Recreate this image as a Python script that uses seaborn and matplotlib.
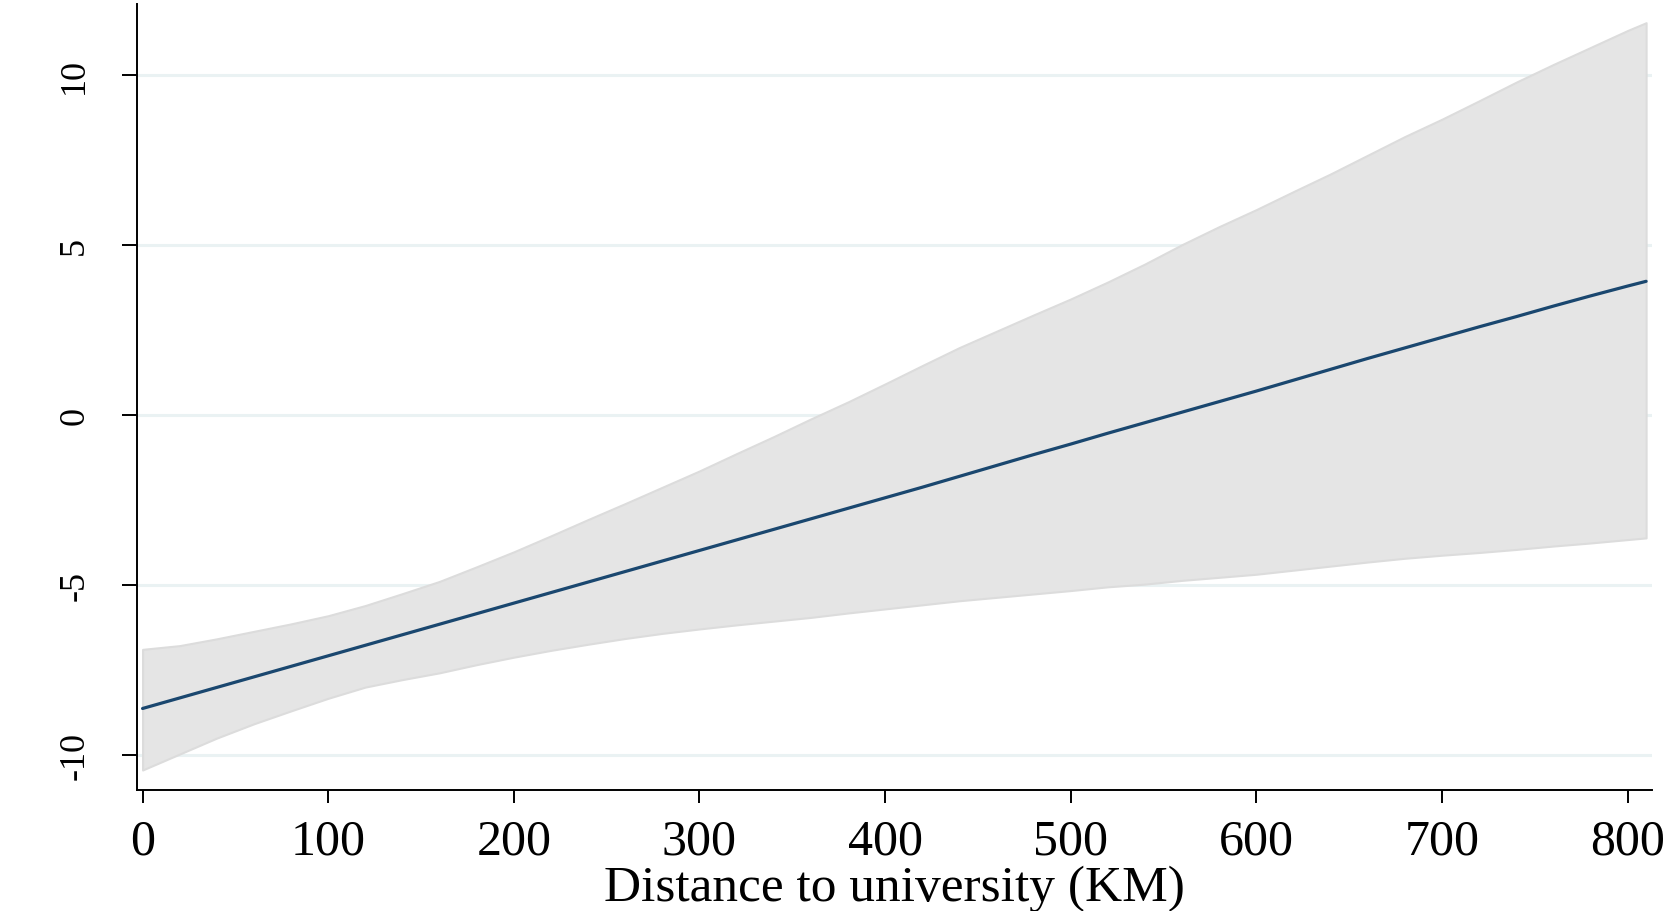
import numpy as np
import pandas as pd
import matplotlib
matplotlib.use("Agg")
import matplotlib.pyplot as plt
import seaborn as sns

# valores (distância em km, efeito estimado e IC 95%)
distancia = [0, 20, 40, 60, 80, 100, 120, 140, 160, 180, 200, 220, 240, 260,
             280, 300, 320, 340, 360, 380, 400, 420, 440, 460, 480, 500, 520,
             540, 560, 580, 600, 620, 640, 660, 680, 700, 720, 740, 760, 780,
             800, 810]
efeito = [-8.63, -8.32, -8.01, -7.70, -7.39, -7.08, -6.77, -6.46, -6.15, -5.84,
          -5.53, -5.22, -4.91, -4.60, -4.29, -3.98, -3.67, -3.36, -3.05, -2.74,
          -2.43, -2.12, -1.80, -1.48, -1.16, -0.85, -0.53, -0.22, 0.09, 0.40,
          0.71, 1.03, 1.35, 1.67, 1.98, 2.29, 2.60, 2.90, 3.21, 3.51, 3.80, 3.94]
ic_sup = [-6.89, -6.78, -6.58, -6.36, -6.14, -5.90, -5.60, -5.25, -4.89, -4.46,
          -4.02, -3.55, -3.07, -2.60, -2.12, -1.64, -1.13, -0.63, -0.11, 0.39,
          0.92, 1.46, 1.99, 2.47, 2.95, 3.42, 3.92, 4.45, 5.02, 5.55, 6.05,
          6.58, 7.10, 7.65, 8.20, 8.71, 9.25, 9.80, 10.32, 10.82, 11.32, 11.55]
ic_inf = [-10.44, -9.97, -9.50, -9.08, -8.70, -8.33, -8.00, -7.78, -7.58, -7.34,
          -7.12, -6.92, -6.74, -6.57, -6.42, -6.29, -6.17, -6.06, -5.95, -5.82,
          -5.70, -5.58, -5.46, -5.36, -5.26, -5.16, -5.05, -4.97, -4.86, -4.77,
          -4.68, -4.56, -4.44, -4.32, -4.21, -4.12, -4.04, -3.95, -3.85, -3.76,
          -3.66, -3.61]
xticks = [0, 100, 200, 300, 400, 500, 600, 700, 800]
yticks = [-10, -5, 0, 5, 10]

df = pd.DataFrame({"distancia": distancia, "efeito": efeito,
                   "ic_sup": ic_sup, "ic_inf": ic_inf})

sns.set_theme(style="white")
plt.rcParams['font.family'] = ['Liberation Serif', 'DejaVu Serif']
plt.rcParams['text.color'] = 'black'
plt.rcParams['xtick.color'] = 'black'
plt.rcParams['ytick.color'] = 'black'
plt.rcParams['axes.labelcolor'] = 'black'

fig = plt.figure(figsize=(16.81, 9.12), dpi=100)
ax = fig.add_axes([0.0815, 0.133, 0.9015, 0.8615])

# linhas de grade horizontais (estilo Stata)
for y in yticks:
    ax.axhline(y, color="#eaf2f3", lw=2.2, zorder=0)

ax.fill_between(df["distancia"], df["ic_inf"], df["ic_sup"],
                facecolor="#e5e5e5", edgecolor="#dcdcdc", lw=1.5, zorder=1)
sns.lineplot(data=df, x="distancia", y="efeito", color="#1a476f", lw=2.3,
             ax=ax, zorder=2)

ax.set_xlim(-3, 813.4)
ax.set_ylim(-11.02, 12.1)
ax.set_xticks(xticks)
ax.set_yticks(yticks)
ax.set_xticklabels([str(v) for v in xticks], fontsize=36)
ax.set_yticklabels([str(v) for v in yticks], fontsize=26, rotation=90,
                   va="center")

for lado in ["top", "right"]:
    ax.spines[lado].set_visible(False)
for lado in ["left", "bottom"]:
    ax.spines[lado].set_color("black")
    ax.spines[lado].set_linewidth(1.4)

ax.tick_params(axis="y", direction="out", length=11, width=1.4,
               color="black", pad=22, left=True)
ax.tick_params(axis="x", direction="out", length=9.5, width=1.4,
               color="black", pad=11, bottom=True)

ax.set_xlabel("Distance to university (KM)", fontsize=37, labelpad=0)
ax.set_ylabel("")

plt.savefig("out.png", dpi=100, facecolor="white")
